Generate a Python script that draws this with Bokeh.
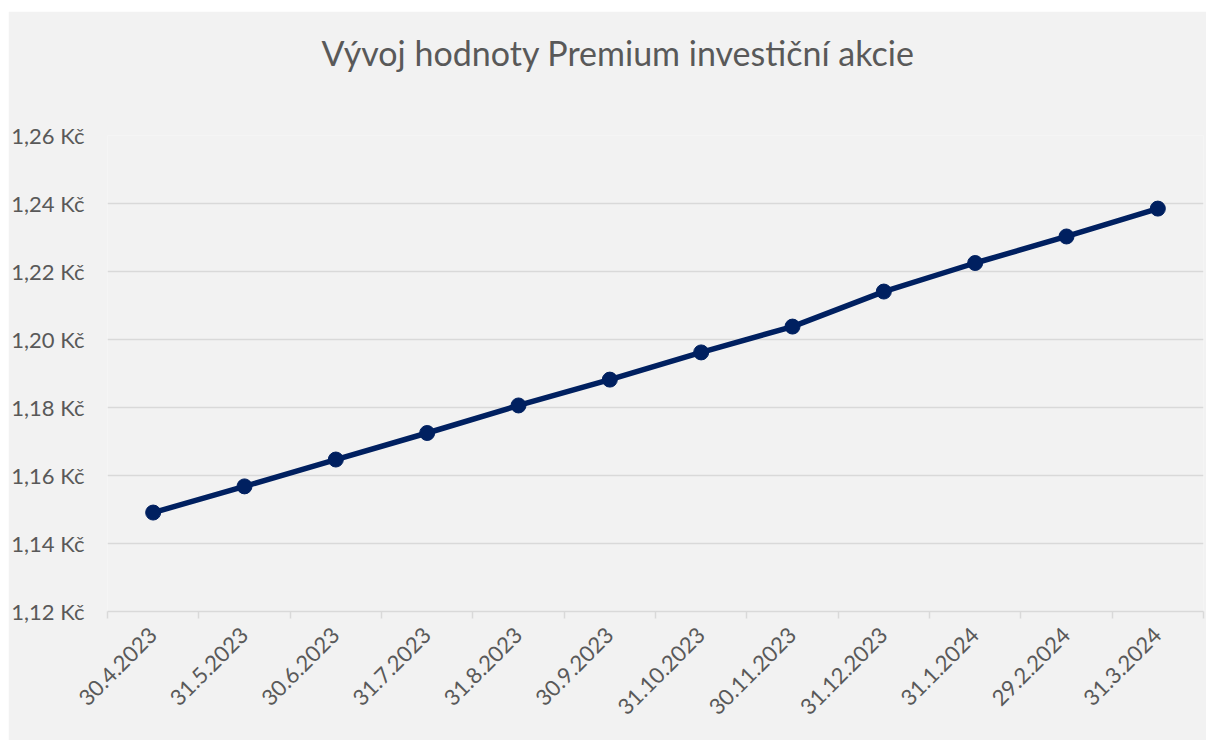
from bokeh.plotting import figure
from bokeh.models import FixedTicker, CustomJSTickFormatter, Range1d, ColumnDataSource, Spacer
from bokeh.layouts import column, row
from bokeh.embed import file_html
from bokeh.resources import INLINE
import math

title_text = "Vývoj hodnoty Premium investiční akcie"
dates = ["30.4.2023", "31.5.2023", "30.6.2023", "31.7.2023", "31.8.2023", "30.9.2023",
         "31.10.2023", "30.11.2023", "31.12.2023", "31.1.2024", "29.2.2024", "31.3.2024"]
values = [1.1491, 1.1568, 1.1647, 1.1725, 1.1806, 1.1882,
          1.1962, 1.2038, 1.2141, 1.2225, 1.2303, 1.2385]
y_ticks = [1.12, 1.14, 1.16, 1.18, 1.20, 1.22, 1.24, 1.26]

x_pos = [i + 0.5 for i in range(len(dates))]
boundaries = list(range(len(dates) + 1))

FONT = "Lato"
TXT = "#595959"
GRID = "#D9D9D9"
BG = "#F2F2F2"
NAVY = "#002060"

p = figure(width=1198, height=729, output_backend="svg", toolbar_location=None,
           x_range=Range1d(0, len(dates)), y_range=Range1d(1.12, 1.26),
           min_border_left=97, min_border_right=3, min_border_top=124, min_border_bottom=129)

p.title.text = title_text
p.title.align = "left"
p.title.offset = 214
p.title.text_font = FONT
p.title.text_font_style = "normal"
p.title.text_font_size = "34px"
p.title.text_color = TXT
p.title.standoff = 0
p.title.padding = (0, 0, 0, 63)

p.background_fill_color = BG
p.border_fill_color = BG
p.outline_line_color = None

src = ColumnDataSource(dict(x=x_pos, y=values))
p.line("x", "y", source=src, line_color=NAVY, line_width=5.5)
p.scatter("x", "y", source=src, size=15, fill_color=NAVY, line_color=NAVY)

# x axis
p.xaxis.ticker = FixedTicker(ticks=x_pos, minor_ticks=boundaries)
p.xaxis.major_label_overrides = {x: d for x, d in zip(x_pos, dates)}
p.xaxis.major_label_orientation = math.pi / 4
p.xaxis.major_tick_line_color = None
p.xaxis.minor_tick_line_color = GRID
p.xaxis.minor_tick_line_width = 1.5
p.xaxis.minor_tick_in = 0
p.xaxis.minor_tick_out = 7
p.xaxis.axis_line_color = GRID
p.xaxis.axis_line_width = 1.5
p.xaxis.major_label_text_font = FONT
p.xaxis.major_label_text_font_size = "22px"
p.xaxis.major_label_text_color = TXT
p.xaxis.major_label_standoff = 13
p.xgrid.grid_line_color = None

# y axis
p.yaxis.ticker = FixedTicker(ticks=y_ticks)
p.yaxis.formatter = CustomJSTickFormatter(code="return tick.toFixed(2).replace('.', ',') + ' Kč';")
p.yaxis.axis_line_color = None
p.yaxis.major_tick_line_color = None
p.yaxis.minor_tick_line_color = None
p.yaxis.major_label_text_font = FONT
p.yaxis.major_label_text_font_size = "22px"
p.yaxis.major_label_text_color = TXT
p.yaxis.major_label_standoff = 17
p.ygrid.grid_line_color = GRID
p.ygrid.grid_line_width = 1.5

layout = column(Spacer(height=11, width=1206), row(Spacer(width=8, height=729), p))
open("out.html", "w").write(file_html(layout, INLINE))
